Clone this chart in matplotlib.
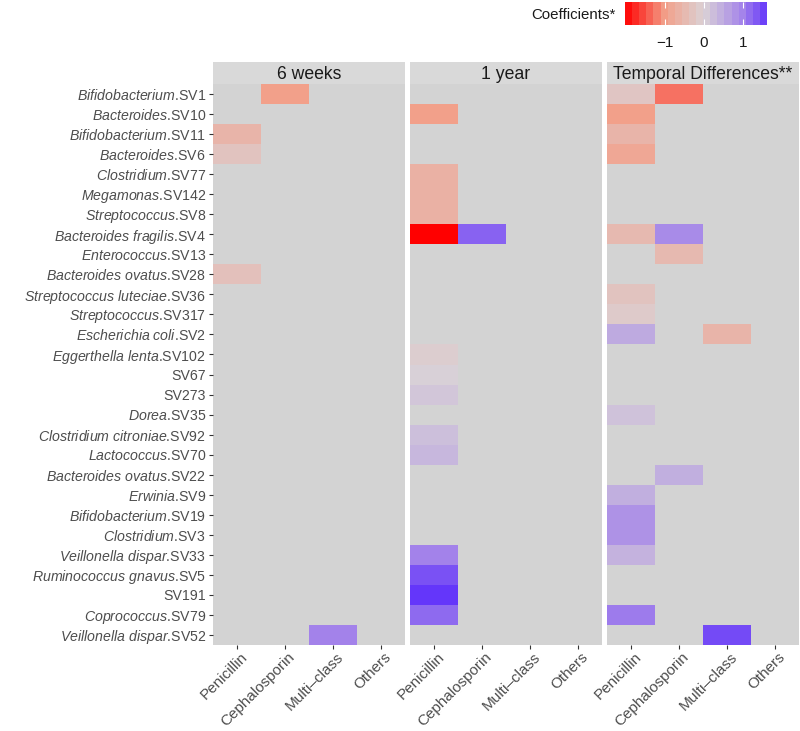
import numpy as np
import matplotlib
matplotlib.use("Agg")
import matplotlib.pyplot as plt
import matplotlib.transforms as mtransforms
from matplotlib.colors import LinearSegmentedColormap, Normalize
from matplotlib.colorbar import ColorbarBase

plt.rcParams["font.family"] = ["Liberation Sans", "DejaVu Sans"]
plt.rcParams["mathtext.fontset"] = "custom"
plt.rcParams["mathtext.it"] = "Liberation Sans:italic"
plt.rcParams["mathtext.rm"] = "Liberation Sans"

### data (top row first)
taxa = ["Bifidobacterium", "Bacteroides", "Bifidobacterium", "Bacteroides",
        "Clostridium", "Megamonas", "Streptococcus", "Bacteroides fragilis",
        "Enterococcus", "Bacteroides ovatus", "Streptococcus luteciae",
        "Streptococcus", "Escherichia coli", "Eggerthella lenta", "", "",
        "Dorea", "Clostridium citroniae", "Lactococcus", "Bacteroides ovatus",
        "Erwinia", "Bifidobacterium", "Clostridium", "Veillonella dispar",
        "Ruminococcus gnavus", "", "Coprococcus", "Veillonella dispar"]
sv_ids = ["SV1", "SV10", "SV11", "SV6", "SV77", "SV142", "SV8", "SV4",
          "SV13", "SV28", "SV36", "SV317", "SV2", "SV102", "SV67", "SV273",
          "SV35", "SV92", "SV70", "SV22", "SV9", "SV19", "SV3", "SV33",
          "SV5", "SV191", "SV79", "SV52"]
drug_classes = ["Penicillin", "Cephalosporin", "Multi\u2013class", "Others"]
panels = ["6 weeks", "1 year", "Temporal Differences**"]

# coefficients per panel: {sv: [Penicillin, Cephalosporin, Multi-class, Others]}
n = np.nan
coef_6w = {
    "SV1": [n, -1.0, n, n],
    "SV11": [-0.6, n, n, n],
    "SV6": [-0.3, n, n, n],
    "SV28": [-0.35, n, n, n],
    "SV52": [n, n, 1.0, n],
}
coef_1y = {
    "SV10": [-1.0, n, n, n],
    "SV77": [-0.65, n, n, n],
    "SV142": [-0.65, n, n, n],
    "SV8": [-0.65, n, n, n],
    "SV4": [-2.03, 1.25, n, n],
    "SV102": [-0.1, n, n, n],
    "SV67": [0.03, n, n, n],
    "SV273": [0.15, n, n, n],
    "SV92": [0.25, n, n, n],
    "SV70": [0.35, n, n, n],
    "SV33": [1.0, n, n, n],
    "SV5": [1.4, n, n, n],
    "SV191": [1.62, n, n, n],
    "SV79": [1.2, n, n, n],
}
coef_diff = {
    "SV1": [-0.25, -1.3, n, n],
    "SV10": [-1.0, n, n, n],
    "SV11": [-0.6, n, n, n],
    "SV6": [-0.85, n, n, n],
    "SV4": [-0.5, 0.9, n, n],
    "SV13": [n, -0.5, n, n],
    "SV36": [-0.3, n, n, n],
    "SV317": [-0.15, n, n, n],
    "SV2": [0.5, n, -0.6, n],
    "SV35": [0.2, n, n, n],
    "SV22": [n, 0.45, n, n],
    "SV9": [0.45, n, n, n],
    "SV19": [0.8, n, n, n],
    "SV3": [0.8, n, n, n],
    "SV33": [0.4, n, n, n],
    "SV79": [1.05, n, n, n],
    "SV52": [n, n, 1.45, n],
}
vmin, vmax = -2.03, 1.62


def to_matrix(coef):
    m = np.full((len(sv_ids), len(drug_classes)), np.nan)
    for i, sv in enumerate(sv_ids):
        if sv in coef:
            m[i] = coef[sv]
    return np.ma.masked_invalid(m)


def make_label(taxon, sv):
    if not taxon:
        return sv
    return "$\\mathit{" + taxon.replace(" ", "\\ ") + "}$." + sv


# red -> greyish -> violet
anchors = [(vmin, "#FF0000"), (-1.0, "#F2A08A"), (0.0, "#DAD2D6"),
           (1.0, "#A383EA"), (vmax, "#6436FA")]
cmap = LinearSegmentedColormap.from_list(
    "coef", [((v - vmin) / (vmax - vmin), c) for v, c in anchors])
norm = Normalize(vmin=vmin, vmax=vmax)

fig = plt.figure(figsize=(8, 7.31), dpi=100)

W, H = 800, 731
pan_w = 192
gap = 5
left0 = 213
top, bottom = 84, 645
strip_h = 22
text_grey = "#4D4D4D"

matrices = [to_matrix(coef_6w), to_matrix(coef_1y), to_matrix(coef_diff)]
labels = [make_label(t, s) for t, s in zip(taxa, sv_ids)]
# x labels end a little to the right of their tick, as in ggplot
shift = mtransforms.ScaledTranslation(0.08, 0.0, fig.dpi_scale_trans)

for k, (title, mat) in enumerate(zip(panels, matrices)):
    x0 = left0 + k * (pan_w + gap)
    ax = fig.add_axes([x0 / W, (H - bottom) / H, pan_w / W, (bottom - top) / H])
    ax.set_facecolor("#D3D3D3")
    ax.pcolormesh(np.arange(len(drug_classes) + 1), np.arange(len(sv_ids) + 1),
                  mat, cmap=cmap, norm=norm)
    ax.set_xlim(0, len(drug_classes))
    ax.set_ylim(len(sv_ids), 0)
    for s in ax.spines.values():
        s.set_visible(False)
    ax.tick_params(color="#333333", length=3, width=0.8, pad=4)
    ax.set_xticks(np.arange(len(drug_classes)) + 0.5)
    ax.set_xticklabels(drug_classes, rotation=45, ha="right", va="center",
                       rotation_mode="anchor", fontsize=11, color=text_grey)
    for lab in ax.get_xticklabels():
        lab.set_transform(lab.get_transform() + shift)
    ax.set_yticks(np.arange(len(sv_ids)) + 0.5)
    if k == 0:
        ax.set_yticklabels(labels, fontsize=10.2, color=text_grey)
        ax.tick_params(axis="y", pad=2)
    else:
        ax.set_yticklabels([])
        ax.tick_params(axis="y", length=0)

    sax = fig.add_axes([x0 / W, (H - top) / H, pan_w / W, strip_h / H])
    sax.set_facecolor("#D9D9D9")
    sax.set_xticks([])
    sax.set_yticks([])
    for s in sax.spines.values():
        s.set_visible(False)
    sax.text(0.5, 0.45, title, ha="center", va="center", fontsize=12.7,
             color="#1A1A1A", transform=sax.transAxes)

# colour legend on top
cax = fig.add_axes([625 / W, (H - 25) / H, 142 / W, 23 / H])
cb = ColorbarBase(cax, cmap=cmap, norm=norm, orientation="horizontal",
                  boundaries=np.linspace(vmin, vmax, 21), ticks=[-1, 0, 1])
cb.outline.set_visible(False)
cax.set_xticklabels(["\u22121", "0", "1"], fontsize=11, color="#1A1A1A")
cax.tick_params(axis="x", direction="in", color="white", length=4, width=0.8,
                pad=8, top=True)
fig.text(616 / W, (H - 15) / H, "Coefficients*", ha="right", va="center",
         fontsize=10.8, color="#1A1A1A")

fig.savefig("out.png", dpi=100)
